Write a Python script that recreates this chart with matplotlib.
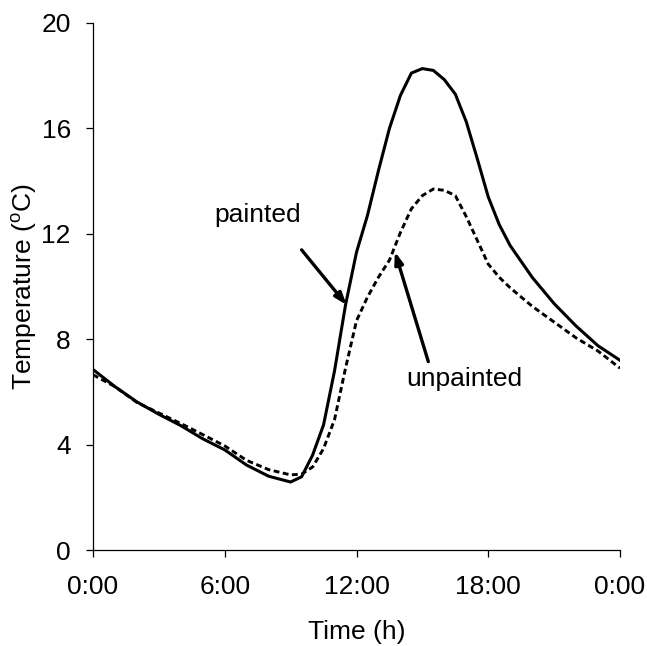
import matplotlib
matplotlib.use("Agg")
import matplotlib.pyplot as plt

plt.rcParams['font.family'] = ['Liberation Sans', 'DejaVu Sans']
plt.rcParams['mathtext.fontset'] = 'custom'
plt.rcParams['mathtext.rm'] = 'Liberation Sans'
plt.rcParams['mathtext.it'] = 'Liberation Sans'

# hours since midnight
painted_t = [0, 1, 2, 3, 4, 5, 6, 7, 8, 9, 9.5, 10, 10.5, 11, 11.5, 12, 12.5,
             13, 13.5, 14, 14.5, 15, 15.5, 16, 16.5, 17, 17.5, 18, 18.5, 19,
             20, 21, 22, 23, 24]
painted_T = [6.85, 6.2, 5.62, 5.15, 4.72, 4.22, 3.8, 3.22, 2.8, 2.58, 2.78,
             3.6, 4.75, 6.8, 9.3, 11.3, 12.7, 14.4, 16.0, 17.25, 18.1, 18.27,
             18.2, 17.85, 17.3, 16.25, 14.85, 13.4, 12.35, 11.55, 10.35, 9.35,
             8.5, 7.75, 7.2]

unpainted_t = [0, 1, 2, 3, 4, 5, 6, 7, 8, 9, 9.5, 10, 10.5, 11, 11.5, 12, 12.5,
               13, 13.5, 14, 14.5, 15, 15.5, 16, 16.5, 17, 17.5, 18, 18.5, 19,
               20, 21, 22, 23, 24]
unpainted_T = [6.65, 6.2, 5.6, 5.2, 4.8, 4.38, 3.95, 3.4, 3.05, 2.85, 2.88,
               3.15, 3.85, 4.95, 6.9, 8.7, 9.6, 10.35, 11.0, 12.05, 12.95,
               13.45, 13.7, 13.65, 13.45, 12.65, 11.75, 10.85, 10.35, 9.95,
               9.25, 8.65, 8.05, 7.55, 6.9]

xticks = [0, 6, 12, 18, 24]
xticklabels = ['0:00', '6:00', '12:00', '18:00', '0:00']
yticks = [0, 4, 8, 12, 16, 20]

FS = 19

fig = plt.figure(figsize=(6.47, 6.46), dpi=100)
ax = fig.add_axes([93/647, (646-550)/646, (620-93)/647, (550-23)/646])

ax.plot(unpainted_t, unpainted_T, color='black', lw=2.1, ls=(0, (2.0, 1.2)))
ax.plot(painted_t, painted_T, color='black', lw=2.2)

ax.set_xlim(0, 24)
ax.set_ylim(0, 20)
ax.set_xticks(xticks)
ax.set_xticklabels(xticklabels)
ax.set_yticks(yticks)
for s in ['top', 'right']:
    ax.spines[s].set_visible(False)
for s in ['left', 'bottom']:
    ax.spines[s].set_linewidth(0.9)
ax.tick_params(direction='out', length=5, width=0.9, labelsize=FS)
ax.tick_params(axis='x', pad=13)
ax.tick_params(axis='y', pad=11)

ax.set_xlabel('Time (h)', fontsize=FS, labelpad=15)
ax.set_ylabel(r'Temperature ($^{o}$C)', fontsize=FS, labelpad=2)

arrow = dict(arrowstyle='-|>,head_length=0.7,head_width=0.25', color='black', lw=2.4,
             shrinkA=0, shrinkB=0)
ax.annotate('', xy=(11.55, 9.3), xytext=(9.5, 11.39), arrowprops=arrow)
ax.annotate('', xy=(13.75, 11.32), xytext=(15.27, 7.15), arrowprops=arrow)
ax.text(7.5, 12.7, 'painted', fontsize=FS, ha='center', va='center')
ax.text(16.9, 6.5, 'unpainted', fontsize=FS, ha='center', va='center')

fig.savefig('out.png', dpi=100)
